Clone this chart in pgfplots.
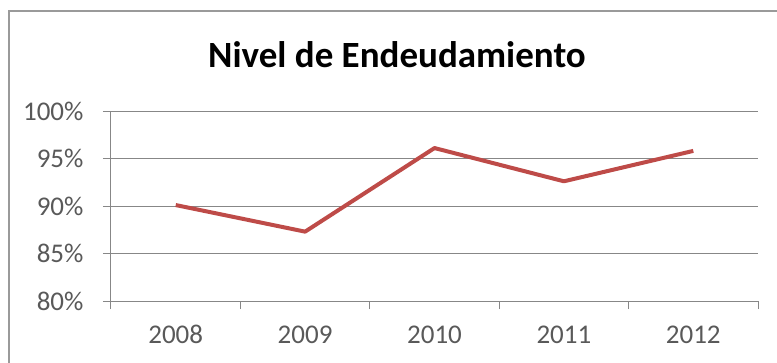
\documentclass[border=0pt]{standalone}
\usepackage{pgfplots}
\pgfplotsset{compat=1.18}
\usepackage{fontspec}
\setmainfont{Carlito}
\definecolor{linered}{HTML}{BE4B48}
\definecolor{txtgray}{HTML}{595959}
\definecolor{gridgray}{HTML}{878787}
\definecolor{framegray}{HTML}{9A9A9A}
\begin{document}
\begin{tikzpicture}[x=1pt,y=1pt]
\useasboundingbox (0,0) rectangle (777,362);
\draw[framegray, line width=2.5pt] (9,-10) -- (9,351) -- (790,351);
\node[anchor=base, font=\bfseries\fontsize{37}{42}\selectfont, text=black] at (397,294) {Nivel de Endeudamiento};
\begin{axis}[
  at={(111pt,61pt)}, anchor=south west,
  scale only axis, width=647pt, height=190pt,
  xmin=-0.5, xmax=4.5, ymin=80, ymax=100,
  xtick={-0.5,0.5,1.5,2.5,3.5,4.5},
  xticklabels={},
  extra x ticks={0,1,2,3,4},
  extra x tick labels={2008,2009,2010,2011,2012},
  extra x tick style={major tick length=0pt},
  ytick={80,85,90,95,100},
  yticklabel={\pgfmathprintnumber{\tick}\%},
  /pgf/number format/assume math mode=true,
  axis x line*=bottom, axis y line*=left,
  axis line style={gridgray, line width=1pt, -},
  ymajorgrids, major grid style={gridgray, line width=1pt},
  xtick align=outside, ytick align=outside,
  xtick pos=left, ytick pos=left,
  major tick length=8pt,
  every tick/.style={draw=gridgray, line width=1pt},
  ticklabel style={font=\fontsize{27}{30}\selectfont, text=txtgray},
  yticklabel style={xshift=-16pt},
  xticklabel style={yshift=-21pt},
  clip=false,
]
\addplot[linered, line width=4pt, line join=round] coordinates {
  (0,90.1) (1,87.3) (2,96.1) (3,92.6) (4,95.8)
};
\end{axis}
\end{tikzpicture}
\end{document}
